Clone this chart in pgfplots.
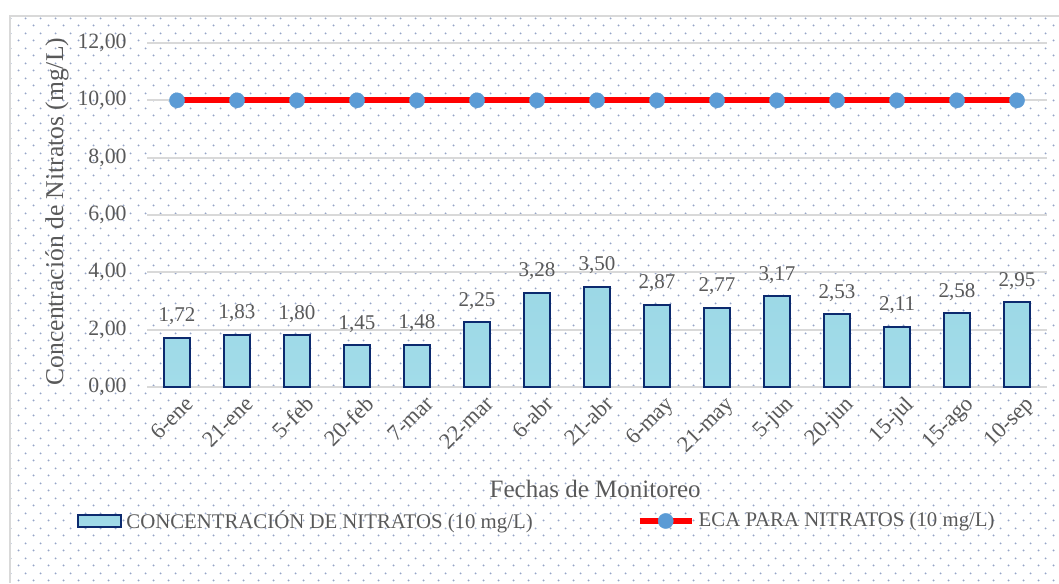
\documentclass[border=0pt]{standalone}
\usepackage{fontspec}
\setmainfont{Liberation Serif}
\usepackage{pgfplots}
\pgfplotsset{compat=1.18}
\usetikzlibrary{patterns.meta}
\definecolor{textgray}{HTML}{595959}
\definecolor{gridgray}{HTML}{D9D9D9}
\definecolor{dotc}{RGB}{150,165,200}
\definecolor{navy}{HTML}{0C2A6E}
\definecolor{markblue}{HTML}{5B9BD5}
\definecolor{cyanA}{HTML}{9CD8E6}
\definecolor{cyanB}{HTML}{CBEFF6}
\definecolor{cyanC}{HTML}{A2DCE9}
\tikzdeclarepattern{
  name=bgdots,
  type=uncolored,
  bottom left={(0pt,0pt)},
  top right={(7.5pt,7.5pt)},
  tile size={(7.5pt,7.5pt)},
  code={
    \pgfpathcircle{\pgfpoint{1.875pt}{1.875pt}}{0.55pt}
    \pgfpathcircle{\pgfpoint{5.625pt}{5.625pt}}{0.55pt}
    \pgfusepath{fill}
  }
}
\pgfkeys{/pgf/number format/.cd, fixed, fixed zerofill, precision=2, use comma, assume math mode=true}
\pgfplotsset{
  barlegend/.style={legend image code/.code={\draw[draw=navy, line width=1pt, top color=cyanA, middle color=cyanB, bottom color=cyanC] (0pt,-3pt) rectangle (21.5pt,3pt);}},
  linelegend/.style={legend image code/.code={\draw[mark repeat=2, mark phase=2, #1] plot coordinates {(0pt,0pt) (13pt,0pt) (26pt,0pt)};}},
}
\begin{document}
\begin{tikzpicture}
\useasboundingbox (0,0) rectangle (529.5pt,291.5pt);
\fill[pattern=bgdots, pattern color=dotc] (5pt,0pt) rectangle (529.5pt,283.5pt);
\draw[gridgray, line width=0.75pt] (5pt,0pt) -- (5pt,283.5pt) -- (529.5pt,283.5pt);
\begin{axis}[
  at={(73.5pt,98pt)}, anchor=south west,
  width=450pt, height=172pt, scale only axis,
  xmin=-0.5, xmax=14.5, ymin=0, ymax=12,
  ytick={0,2,...,12},
  xtick={0,...,14},
  xticklabels={6-ene,21-ene,5-feb,20-feb,7-mar,22-mar,6-abr,21-abr,6-may,21-may,5-jun,20-jun,15-jul,15-ago,10-sep},
  axis line style={draw=none},
  tick style={draw=none},
  ymajorgrids,
  major grid style={gridgray, line width=1pt},
  clip=false,
  every tick label/.append style={text=textgray},
  yticklabel style={anchor=east, inner sep=0pt, xshift=-10pt, font=\fontsize{10.9}{13}\selectfont},
  xticklabel style={rotate=45, anchor=north east, inner sep=0pt, yshift=-5pt, font=\fontsize{11.2}{13}\selectfont},
  xlabel={Fechas de Monitoreo},
  ylabel={Concentración de Nitratos (mg/L)},
  every axis x label/.style={at={(axis description cs:0.498,-0.32)}, anchor=base, text=textgray, font=\fontsize{12.5}{15}\selectfont},
  every axis y label/.style={at={(axis description cs:-0.1,0.51)}, rotate=90, anchor=center, text=textgray, font=\fontsize{12.8}{15}\selectfont},
  legend columns=2,
  legend style={at={(axis description cs:-0.0778,-0.3895)}, anchor=west, draw=none, fill=none, inner sep=0pt,
    font=\fontsize{10.4}{13}\selectfont, text=textgray,
    /tikz/every even column/.append style={column sep=50pt}},
  legend cell align=left,
]
\addplot[ybar, bar width=13pt, draw=navy, line width=1pt, top color=cyanA, middle color=cyanB, bottom color=cyanC, barlegend]
coordinates {(0,1.72) (1,1.83) (2,1.80) (3,1.45) (4,1.48) (5,2.25) (6,3.28) (7,3.50) (8,2.87) (9,2.77) (10,3.17) (11,2.53) (12,2.11) (13,2.58) (14,2.95)};
\addlegendentry{CONCENTRACIÓN DE NITRATOS (10 mg/L)}
\addplot[draw=none, forget plot, nodes near coords,
  nodes near coords style={text=textgray, anchor=base, yshift=8pt, font=\fontsize{10.5}{13}\selectfont}]
coordinates {(0,1.72) (1,1.83) (2,1.80) (3,1.45) (4,1.48) (5,2.25) (6,3.28) (7,3.50) (8,2.87) (9,2.77) (10,3.17) (11,2.53) (12,2.11) (13,2.58) (14,2.95)};
\addplot[red, line width=3pt, mark=*, mark size=3.8pt, mark options={solid, fill=markblue, draw=markblue, line width=0.2pt}, linelegend]
coordinates {(0,10) (1,10) (2,10) (3,10) (4,10) (5,10) (6,10) (7,10) (8,10) (9,10) (10,10) (11,10) (12,10) (13,10) (14,10)};
\addlegendentry{ECA PARA NITRATOS (10 mg/L)}
\end{axis}
\end{tikzpicture}
\end{document}
